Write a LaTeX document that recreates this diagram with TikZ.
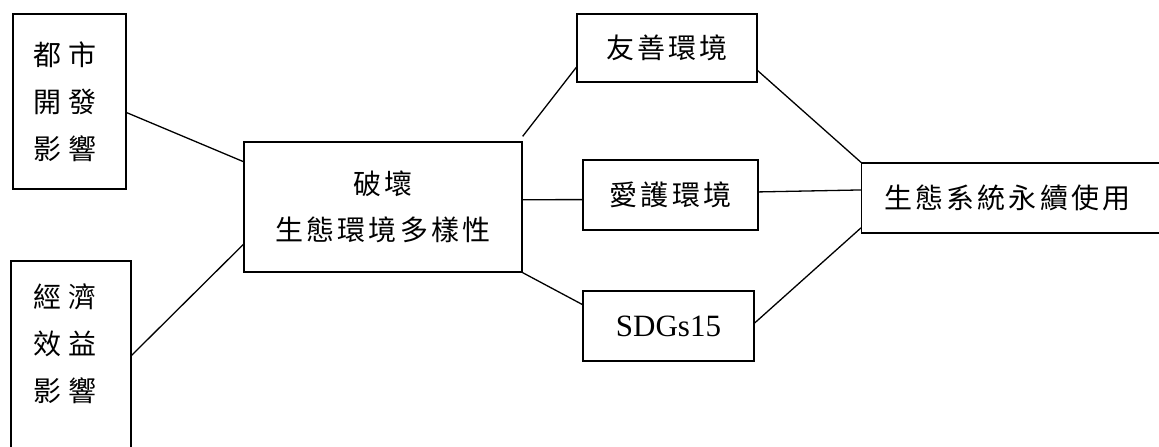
\documentclass[tikz,border=0pt]{standalone}
\usepackage{fontspec}
\setmainfont{Liberation Serif}
\newfontfamily\cjk[LetterSpace=11]{Noto Sans CJK TC}
\newfontfamily\cjkw[LetterSpace=25]{Noto Sans CJK TC}
\begin{document}
\begin{tikzpicture}[
        x=1pt, y=-1pt,
        line width=1.3pt,
        font=\cjk\fontsize{28}{46}\selectfont
    ]
    \tikzset{
        mybox/.style = {rectangle, draw=black, align=center, inner sep=0pt},
        mytall/.style = {rectangle, draw=black, align=left, inner ysep=0pt,
            font=\cjkw\fontsize{28}{47}\selectfont},
        link/.style = {-, line width=1.3pt},
    }
    \clip (0,0) rectangle (1159,447);
    \node[mytall, minimum height=175, text width=73, inner xsep=20] at (69.5,101.5) (city) {都市\\開發\\影響};
    \node[mytall, minimum height=210, text width=76, inner xsep=22] at (71,366) (econ) {經濟\\效益\\影響\\~};
    \node[mybox, minimum width=278, minimum height=130] at (383,207) (harm) {破壞\\生態環境多樣性};
    \node[mybox, minimum width=180, minimum height=68] at (667,48) (friendly) {友善環境};
    \node[mybox, minimum width=175, minimum height=70] at (670.5,195) (care) {愛護環境};
    \node[mybox, minimum width=171, minimum height=70,
        font=\rmfamily\fontsize{31}{37}\selectfont] at (668.5,326) (sdg) {SDGs15};
    \node[mybox, anchor=west, align=left, text width=260, inner xsep=23,
        minimum height=70] at (861,198) (eco) {生態系統永續使用};
    %
    \draw[link] (city.-11.5) -- (harm.162);
    \draw[link] (econ.10.4) -- (harm.-165);
    %
    \draw[link] ([yshift=5pt]harm.north east) -- (friendly.-168);
    \draw[link] (harm.3.3) -- (care.-177.4);
    \draw[link] (harm.south east) -- (sdg.166.2);
    %
    \draw[link] (friendly.-14.9) -- (eco.north west);
    \draw[link] (care.2.6) -- (eco.177.4);
    \draw[link] (sdg.2) -- (eco.-169.6);
\end{tikzpicture}
\end{document}
